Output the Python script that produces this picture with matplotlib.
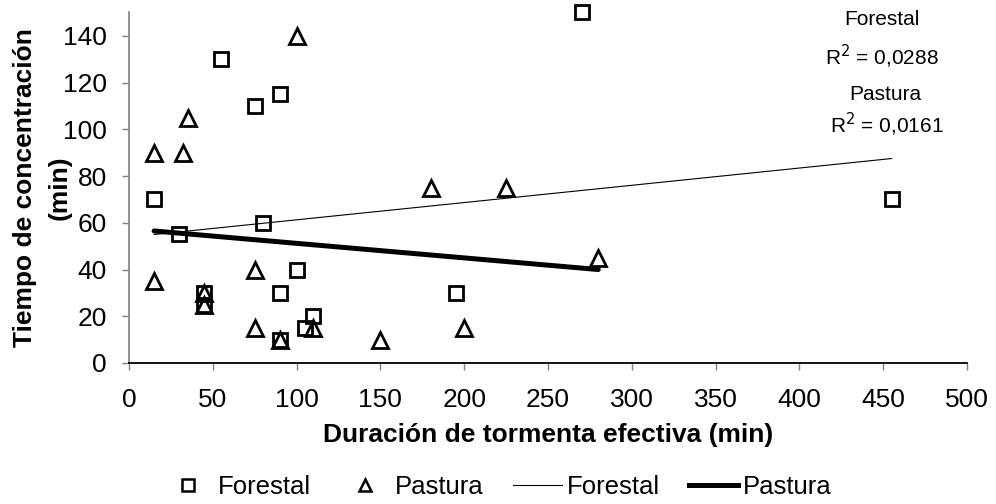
import matplotlib
matplotlib.use("Agg")
import matplotlib.pyplot as plt
from matplotlib.lines import Line2D

plt.rcParams['font.family'] = ['Liberation Sans', 'DejaVu Sans']

# datos
forestal_x = [15, 30, 55, 75, 90, 80, 45, 45, 90, 100, 90, 105, 110, 195, 270, 455]
forestal_y = [70, 55, 130, 110, 115, 60, 30, 25, 30, 40, 10, 15, 20, 30, 150, 70]

pastura_x = [15, 15, 32, 35, 100, 45, 45, 75, 75, 90, 110, 150, 180, 225, 200, 280]
pastura_y = [90, 35, 90, 105, 140, 30, 25, 40, 15, 10, 15, 10, 75, 75, 15, 45]

# lineas de tendencia (extremos leidos)
forestal_fit_x = [15, 455]
forestal_fit_y = [55.0, 87.5]
pastura_fit_x = [15, 280]
pastura_fit_y = [56.5, 40.0]

r2_forestal = "0,0288"
r2_pastura = "0,0161"

fig = plt.figure(figsize=(9.96, 5.04), dpi=100)
ax = fig.add_axes([129 / 996, 141 / 504, 838 / 996, 350.5 / 504])

ax.plot(forestal_fit_x, forestal_fit_y, color='black', lw=0.8, zorder=2)
ax.plot(pastura_fit_x, pastura_fit_y, color='black', lw=3.6, solid_capstyle='round', zorder=2)

ax.plot(forestal_x, forestal_y, ls='none', marker='s', ms=10, mfc='none',
        mec='black', mew=2.0, zorder=3, clip_on=False)
ax.plot(pastura_x, pastura_y, ls='none', marker='^', ms=11, mfc='none',
        mec='black', mew=2.0, zorder=3, clip_on=False)

ax.set_xlim(0, 500)
ax.set_ylim(0, 150)
ax.set_xticks(range(0, 501, 50))
ax.set_yticks(range(0, 141, 20))
ax.tick_params(axis='both', direction='out', length=5, width=1, color='#808080',
               labelsize=19)
ax.tick_params(axis='x', pad=13)
ax.tick_params(axis='y', pad=11)

for s in ['top', 'right']:
    ax.spines[s].set_visible(False)
ax.spines['left'].set_color('#808080')
ax.spines['left'].set_linewidth(1.2)
ax.spines['bottom'].set_color('black')
ax.spines['bottom'].set_linewidth(1.3)

ax.set_xlabel('Duración de tormenta efectiva (min)', fontsize=19, fontweight='bold', labelpad=8)
# titulo del eje y en dos textos separados
fig.text(25 / 996, 1 - 188 / 504, 'Tiempo de concentración', rotation=90, ha='center',
         va='center', fontsize=19, fontweight='bold')
fig.text(60 / 996, 1 - 188 / 504, '(min)', rotation=90, ha='center',
         va='center', fontsize=19, fontweight='bold')

ax.text(449, 147, 'Forestal', ha='center', va='center', fontsize=15)
ax.text(449, 131, r'R$^2$ = ' + r2_forestal, ha='center', va='center', fontsize=15)
ax.text(451, 115, 'Pastura', ha='center', va='center', fontsize=15)
ax.text(452, 102, r'R$^2$ = ' + r2_pastura, ha='center', va='center', fontsize=15)

handles = [
    Line2D([], [], ls='none', marker='s', ms=8, mfc='none', mec='black', mew=1.8),
    Line2D([], [], ls='none', marker='^', ms=8, mfc='none', mec='black', mew=1.8),
    Line2D([], [], color='black', lw=0.8),
    Line2D([], [], color='black', lw=3.6),
]
labels = ['Forestal', 'Pastura', 'Forestal', 'Pastura']
fig.legend(handles, labels, loc='lower center', bbox_to_anchor=(0.5, -0.035), ncol=4,
           frameon=False, fontsize=18.5, handlelength=1.9, handletextpad=0.2,
           columnspacing=1.15)

fig.savefig('out.png', dpi=100)
